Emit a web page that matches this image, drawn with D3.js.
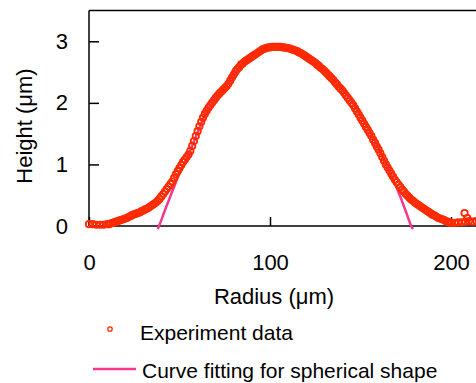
<!DOCTYPE html>
<html>
<head>
<meta charset="utf-8">
<script src="https://cdn.jsdelivr.net/npm/d3@7"></script>
<style>
  body { margin: 0; background: #fff; }
  svg { display: block; font-family: "Liberation Sans", Arial, sans-serif; }
</style>
</head>
<body>
<div class="canvas"></div>
<script>
// measured profile (radius in um, height in um)
const expRadius = [
  0, 2, 4, 6, 8,
  10, 11, 12, 13, 14, 15, 16, 17, 18, 19,
  20, 21, 22, 23, 24, 25, 26, 27, 28, 29,
  30, 31, 32, 33, 34, 35, 36, 37, 38, 39,
  40, 41, 42, 43, 44, 45, 46, 47, 48, 49,
  50, 51, 52, 53, 54, 55, 56, 57, 58, 59,
  60, 61, 62, 63, 64, 65, 66, 67, 68, 69,
  70, 71, 72, 73, 74, 75, 76, 77, 78, 79,
  80, 81, 82, 83, 84, 85, 86, 87, 88, 89,
  90, 91, 92, 93, 94, 95, 96, 97, 98, 99,
  100, 101, 102, 103, 104, 105, 106, 107, 108, 109,
  110, 111, 112, 113, 114, 115, 116, 117, 118, 119,
  120, 121, 122, 123, 124, 125, 126, 127, 128, 129,
  130, 131, 132, 133, 134, 135, 136, 137, 138, 139,
  140, 141, 142, 143, 144, 145, 146, 147, 148, 149,
  150, 151, 152, 153, 154, 155, 156, 157, 158, 159,
  160, 161, 162, 163, 164, 165, 166, 167, 168, 169,
  170, 171, 172, 173, 174, 175, 176, 177, 178, 179,
  180, 181, 182, 183, 184, 185, 186, 187, 188, 189,
  190, 191, 192, 193, 194, 195, 196, 197, 198, 199,
  200, 202, 204, 206, 208, 210, 212, 214,
  207.5, 209
];
const expHeight = [
  0.03, 0.03, 0.02, 0.02, 0.02,
  0.03, 0.03, 0.04, 0.05, 0.06, 0.07, 0.08, 0.09, 0.10, 0.11,
  0.12, 0.13, 0.15, 0.16, 0.18, 0.19, 0.20, 0.21, 0.22, 0.24,
  0.25, 0.27, 0.28, 0.30, 0.32, 0.34, 0.36, 0.38, 0.41, 0.44,
  0.48, 0.52, 0.56, 0.60, 0.64, 0.68, 0.72, 0.78, 0.84, 0.89,
  0.94, 0.99, 1.04, 1.08, 1.12, 1.16, 1.22, 1.30, 1.38, 1.46,
  1.54, 1.62, 1.69, 1.76, 1.82, 1.87, 1.92, 1.96, 2.00, 2.04,
  2.08, 2.12, 2.15, 2.18, 2.21, 2.24, 2.27, 2.31, 2.36, 2.41,
  2.46, 2.51, 2.55, 2.58, 2.62, 2.64, 2.67, 2.69, 2.71, 2.73,
  2.75, 2.77, 2.79, 2.81, 2.83, 2.85, 2.87, 2.88, 2.89, 2.90,
  2.90, 2.91, 2.91, 2.91, 2.91, 2.91, 2.91, 2.90, 2.90, 2.89,
  2.89, 2.88, 2.87, 2.86, 2.85, 2.84, 2.82, 2.81, 2.79, 2.77,
  2.75, 2.73, 2.71, 2.69, 2.67, 2.65, 2.62, 2.60, 2.57, 2.55,
  2.52, 2.49, 2.46, 2.43, 2.40, 2.37, 2.33, 2.30, 2.26, 2.23,
  2.20, 2.16, 2.12, 2.08, 2.04, 2.00, 1.96, 1.91, 1.86, 1.81,
  1.76, 1.71, 1.66, 1.61, 1.56, 1.51, 1.46, 1.40, 1.35, 1.29,
  1.24, 1.18, 1.12, 1.06, 1.00, 0.95, 0.90, 0.85, 0.80, 0.75,
  0.71, 0.67, 0.63, 0.59, 0.56, 0.52, 0.49, 0.46, 0.43, 0.41,
  0.38, 0.36, 0.34, 0.32, 0.30, 0.28, 0.26, 0.24, 0.22, 0.20,
  0.18, 0.17, 0.15, 0.13, 0.12, 0.11, 0.10, 0.08, 0.07, 0.06,
  0.05, 0.05, 0.06, 0.06, 0.07, 0.08, 0.07, 0.08,
  0.21, 0.13
];

// spherical cap fit
const fitRadius = [38, 40, 42, 44, 46, 48, 50, 55, 60, 65, 70, 75, 80, 85, 90, 95, 100, 105, 110,
  115, 120, 125, 130, 135, 140, 145, 150, 155, 160, 165, 168, 170, 172, 174, 176, 178, 179];
const fitHeight = [-0.05, 0.10, 0.26, 0.41, 0.56, 0.71, 0.86, 1.16, 1.52, 1.86, 2.08, 2.24, 2.46, 2.64, 2.75, 2.85, 2.90, 2.91, 2.89,
  2.84, 2.75, 2.65, 2.52, 2.37, 2.21, 2.03, 1.79, 1.54, 1.26, 0.96, 0.76, 0.62, 0.48, 0.32, 0.16, 0.00, -0.05];

const xTicks = [0, 100, 200];
const yTicks = [0, 1, 2, 3];
const legendLabels = ["Experiment data", "Curve fitting for spherical shape"];

const dataColor = "#ff2a00";
const fitColor = "#f7388f";

const width = 476, height = 383;

const svg = d3.select('.canvas')
  .append('svg')
  .attr('width', width)
  .attr('height', height);

// scales
const x = d3.scaleLinear().domain([0, 200]).range([89, 451]);
const y = d3.scaleLinear().domain([0, 3]).range([226, 41.3]);

// frame: left, bottom, top (right side runs off the picture)
const frame = svg.append('g').attr('stroke', '#000').attr('stroke-width', 1.5);
frame.append('line').attr('x1', x(0)).attr('x2', x(0)).attr('y1', y(3.5)).attr('y2', y(0));
frame.append('line').attr('x1', x(0)).attr('x2', width).attr('y1', y(0)).attr('y2', y(0));
frame.append('line').attr('x1', x(0)).attr('x2', width).attr('y1', y(3.5)).attr('y2', y(3.5));

// axes with inward ticks
const yAxis = svg.append('g')
  .attr('transform', `translate(${x(0)},0)`)
  .call(d3.axisLeft(y).tickValues(yTicks).tickFormat(d3.format('d'))
    .tickSize(-10).tickSizeOuter(0).tickPadding(21));

const xAxis = svg.append('g')
  .attr('transform', `translate(0,${y(0)})`)
  .call(d3.axisBottom(x).tickValues(xTicks).tickFormat(d3.format('d'))
    .tickSize(-9).tickSizeOuter(0).tickPadding(28));

[yAxis, xAxis].forEach(a => {
  a.select('.domain').remove();
  a.selectAll('line').attr('stroke', '#000').attr('stroke-width', 1.5);
  a.selectAll('text').attr('font-size', 22).attr('fill', '#000')
    .attr('font-family', '"Liberation Sans", Arial, sans-serif');
});

// axis titles
svg.append('text')
  .attr('x', 274).attr('y', 304)
  .attr('text-anchor', 'middle')
  .attr('font-size', 22)
  .text('Radius (μm)');

svg.append('text')
  .attr('transform', 'translate(32,126) rotate(-90)')
  .attr('text-anchor', 'middle')
  .attr('font-size', 22)
  .text('Height (μm)');

// fit line underneath the data
const line = d3.line().x(d => x(d[0])).y(d => y(d[1])).curve(d3.curveMonotoneX);
svg.append('path')
  .datum(d3.zip(fitRadius, fitHeight))
  .attr('d', line)
  .attr('fill', 'none')
  .attr('stroke', fitColor)
  .attr('stroke-width', 2.5);

// experiment markers
svg.append('g')
  .selectAll('circle')
  .data(d3.zip(expRadius, expHeight))
  .enter()
  .append('circle')
  .attr('cx', d => x(d[0]))
  .attr('cy', d => y(d[1]))
  .attr('r', 3.2)
  .attr('fill', 'none')
  .attr('stroke', dataColor)
  .attr('stroke-width', 1.8);

// legend
const legend = svg.append('g');
legend.append('circle')
  .attr('cx', 110).attr('cy', 329).attr('r', 2.2)
  .attr('fill', 'none').attr('stroke', dataColor).attr('stroke-width', 1.3);
legend.append('text')
  .attr('x', 140).attr('y', 340)
  .attr('font-size', 21)
  .text(legendLabels[0]);
legend.append('line')
  .attr('x1', 93).attr('x2', 136).attr('y1', 369).attr('y2', 369)
  .attr('stroke', fitColor).attr('stroke-width', 2.5);
legend.append('text')
  .attr('x', 142).attr('y', 378)
  .attr('font-size', 21)
  .text(legendLabels[1]);
</script>
</body>
</html>
